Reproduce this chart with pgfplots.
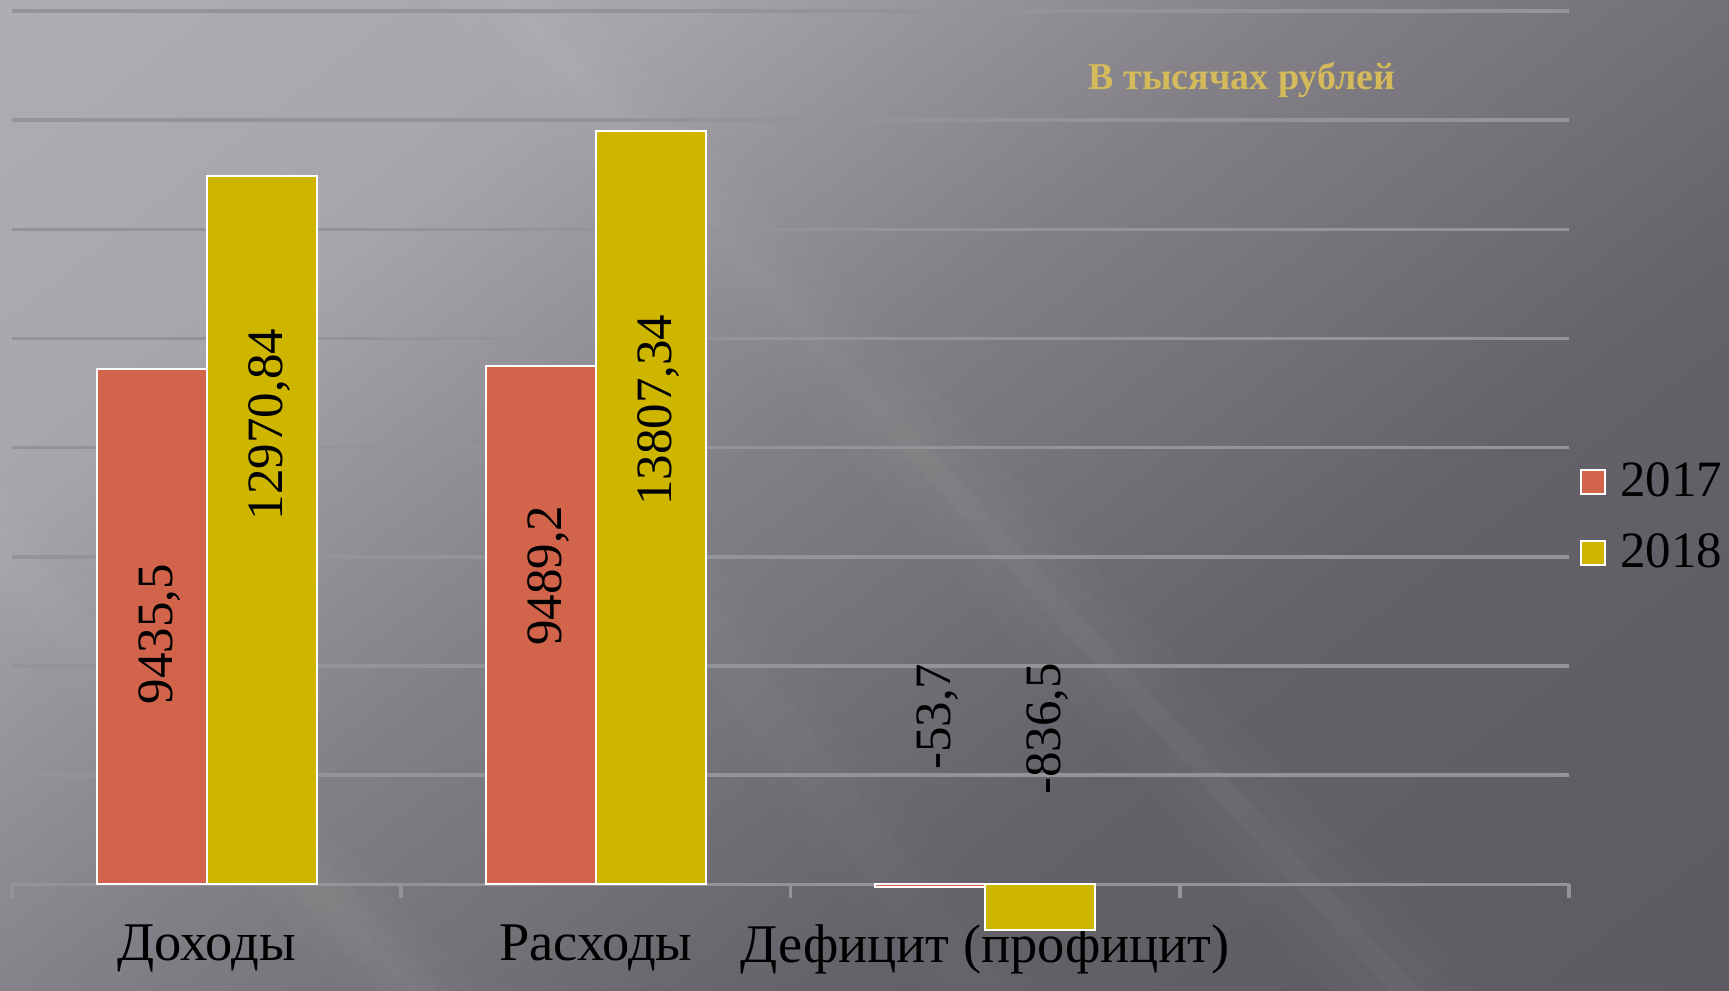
\documentclass[border=0pt]{standalone}
\usepackage{pgfplots}
\pgfplotsset{compat=1.18}
\usepackage{fontspec}
\setmainfont{Liberation Serif}
\definecolor{c17}{RGB}{211,100,76}
\definecolor{c18}{RGB}{205,181,0}
\definecolor{titlec}{RGB}{212,186,90}
\definecolor{gridc}{RGB}{148,147,151}
\definecolor{bgA}{RGB}{182,179,186}
\definecolor{bgB}{RGB}{168,165,172}
\definecolor{bgC}{RGB}{130,128,134}
\definecolor{bgD}{RGB}{100,98,104}
\definecolor{bgE}{RGB}{88,86,92}
\pgfdeclarehorizontalshading{bgshade}{100bp}{color(0bp)=(bgA); color(30bp)=(bgB); color(46bp)=(bgC); color(64bp)=(bgD); color(100bp)=(bgE)}
\begin{document}
\begin{tikzpicture}
\path[use as bounding box] (0,0) rectangle (172.9mm,99.1mm);
\shade[shading=bgshade, shading angle=-52] (0,0) rectangle (172.9mm,99.1mm);
\begin{scope}
\clip (0,0) rectangle (172.9mm,99.1mm);
\foreach \d in {0,3,6,9} {
  \fill[white, opacity=0.015] (44mm+\d mm,99.1mm) -- (58mm-\d mm,99.1mm) -- (148mm-\d mm,0mm) -- (133mm+\d mm,0mm) -- cycle;
  \fill[white, opacity=0.015] (0mm,50mm-\d mm) -- (0mm,38mm+\d mm) -- (35mm+\d mm,0mm) -- (48mm-\d mm,0mm) -- cycle;
  \fill[white, opacity=0.012] (60mm+\d mm,42mm) -- (72mm-\d mm,42mm) -- (104mm-\d mm,0mm) -- (92mm+\d mm,0mm) -- cycle;
}
\end{scope}
\node[font=\bfseries\fontsize{10.8}{13}\selectfont, text=titlec] at (124.2mm,91.1mm) {В тысячах рублей};
\begin{axis}[
  at={(1.2mm,5.2mm)}, anchor=south west, scale only axis,
  width=155.7mm, height=92.8mm,
  xmin=-0.5, xmax=3.5, ymin=-1000, ymax=16000,
  axis x line=middle, axis y line=left,
  hide obscured x ticks=false,
  x axis line style={-, draw=gridc, line width=1pt},
  y axis line style={draw=none},
  ytick={2000,4000,...,16000}, yticklabels={}, ytick style={draw=none},
  ymajorgrids, major grid style={gridc, line width=1pt},
  xtick={-0.5,0.5,1.5,2.5,3.5},
  x tick label as interval,
  xticklabels={Доходы, Расходы, Дефицит (профицит), {}},
  xtick style={draw=gridc, line width=1pt},
  tick align=outside, major tick length=1.4mm,
  xticklabel style={font=\fontsize{15.5}{18}\selectfont, text=black, anchor=north, yshift=-1.4mm},
  legend style={at={(axis description cs:1,0.454)}, anchor=west, draw=none, fill=none,
    font=\fontsize{14.5}{17}\selectfont, row sep=5pt, text=black},
  legend cell align=left,
  legend image code/.code={\draw[draw=white, line width=0.6pt] (0.2mm,-1.2mm) rectangle (2.6mm,1.2mm); \path (3.3mm,0mm);},
]
\addplot[ybar, bar width=11mm, bar shift=-5.5mm, fill=c17, draw=white, line width=0.6pt]
  coordinates {(0,9435.5) (1,9489.2) (2,-53.7)};
\addlegendentry{2017}
\addplot[ybar, bar width=11mm, bar shift=5.5mm, fill=c18, draw=white, line width=0.6pt]
  coordinates {(0,12970.84) (1,13807.34) (2,-836.5)};
\addlegendentry{2018}
\addplot[only marks, mark=*, mark size=0pt, mark options={draw=none, fill=none}, forget plot,
  nodes near coords, point meta=explicit symbolic, nodes near coords align=center,
  every node near coord/.append style={rotate=90, anchor=center, text=black, font=\fontsize{14.5}{17}\selectfont}]
  coordinates {(-0.1213,4586)[9435,5] (0.8787,5657)[9489,2] (1.8787,3071)[-53,7]};
\addplot[only marks, mark=*, mark size=0pt, mark options={draw=none, fill=none}, forget plot,
  nodes near coords, point meta=explicit symbolic, nodes near coords align=center,
  every node near coord/.append style={rotate=90, anchor=center, text=black, font=\fontsize{14.5}{17}\selectfont}]
  coordinates {(0.1613,8424)[12970,84] (1.1613,8687)[13807,34] (2.1613,2848)[-836,5]};
\end{axis}
\end{tikzpicture}
\end{document}
